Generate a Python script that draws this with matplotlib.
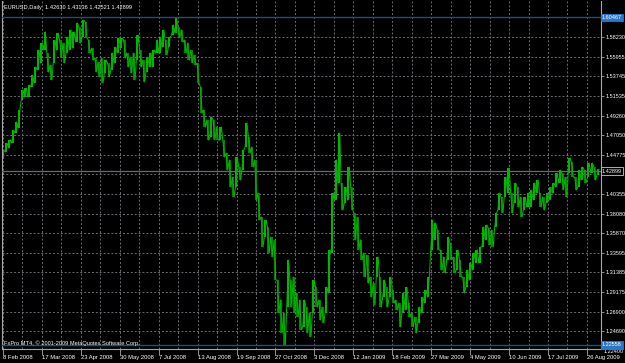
"""
EURUSD 日线图（MT4 风格）复刻
"""

import numpy as np
import matplotlib.pyplot as plt
import matplotlib.transforms as mtransforms

plt.rcParams['font.family'] = ['Liberation Sans', 'DejaVu Sans']

# ==========================================
# 数据：每根柱子的最高价 / 最低价
# ==========================================
highs = [
    # 2008 年 2 月 - 4 月
    1.4534, 1.4614, 1.4648, 1.4762, 1.4853, 1.4990, 1.5218, 1.5241, 1.5275, 1.5389,
    1.5481, 1.5675, 1.5755, 1.5880, 1.5641, 1.5504, 1.5789, 1.5869, 1.5789, 1.5755,
    1.5823, 1.5903, 1.5880, 1.5983, 1.5937, 1.6017, 1.5994, 1.5789, 1.5698, 1.5584,
    1.5538, 1.5584, 1.5561, 1.5527, 1.5641, 1.5709, 1.5812, 1.5812, 1.5789, 1.5641,
    1.5595,
    # 2008 年 5 月 - 9 月
    1.5641, 1.5846, 1.5675, 1.5561, 1.5595, 1.5641, 1.5675, 1.5789, 1.5823, 1.5903,
    1.5789, 1.5823, 1.5960, 1.6040, 1.5937, 1.5903, 1.5789, 1.5755, 1.5675, 1.5618,
    1.5527, 1.5252, 1.4990, 1.4876, 1.4910, 1.4876, 1.4796, 1.4796, 1.4648, 1.4500,
    1.4420, 1.4225, 1.4454, 1.4340, 1.4534, 1.4842, 1.4682, 1.4568,
    # 2008 年 9 月 - 2009 年 1 月
    1.4420, 1.4043, 1.3769, 1.3735, 1.3655, 1.3541, 1.3507, 1.3050, 1.2822, 1.2674,
    1.3279, 1.3050, 1.3085, 1.2902, 1.2822, 1.2822, 1.2742, 1.2674, 1.3050, 1.2970,
    1.2822, 1.2742, 1.2970, 1.3393, 1.4043, 1.4420, 1.4728, 1.4157, 1.4111, 1.4340,
    1.4111, 1.3815, 1.3769, 1.3507, 1.3359, 1.3336, 1.3085, 1.3016,
    # 2009 年 1 月 - 5 月
    1.3313, 1.3085, 1.3050, 1.2970, 1.3085, 1.2936, 1.2822, 1.2788, 1.2902, 1.2970,
    1.2788, 1.2674, 1.2628, 1.2742, 1.2856, 1.2936, 1.3085, 1.3735, 1.3701, 1.3621,
    1.3393, 1.3313, 1.3541, 1.3473, 1.3313, 1.3393, 1.3279, 1.3085, 1.3164, 1.3245,
    1.3359, 1.3393, 1.3427, 1.3655, 1.3678, 1.3644, 1.3621,
    # 2009 年 5 月 - 8 月
    1.3815, 1.4043, 1.3997, 1.4225, 1.4328, 1.4043, 1.4157, 1.4111, 1.3997, 1.3997,
    1.4043, 1.4077, 1.4157, 1.4191, 1.4043, 1.3997, 1.4043, 1.4111, 1.4157, 1.4271,
    1.4305, 1.4271, 1.4225, 1.4443, 1.4397, 1.4225, 1.4305, 1.4340, 1.4305, 1.4385,
    1.4385, 1.4340, 1.4314,
]

lows = [
    1.4454, 1.4511, 1.4557, 1.4614, 1.4728, 1.4785, 1.5104, 1.5138, 1.5138, 1.5252,
    1.5298, 1.5447, 1.5527, 1.5675, 1.5424, 1.5333, 1.5527, 1.5675, 1.5584, 1.5527,
    1.5641, 1.5675, 1.5698, 1.5766, 1.5755, 1.5823, 1.5812, 1.5641, 1.5561, 1.5424,
    1.5367, 1.5298, 1.5412, 1.5367, 1.5447, 1.5527, 1.5641, 1.5698, 1.5584, 1.5481,
    1.5412,
    1.5333, 1.5561, 1.5481, 1.5310, 1.5424, 1.5481, 1.5481, 1.5641, 1.5641, 1.5709,
    1.5618, 1.5709, 1.5846, 1.5869, 1.5812, 1.5766, 1.5641, 1.5561, 1.5527, 1.5504,
    1.5298, 1.4956, 1.4796, 1.4648, 1.4682, 1.4648, 1.4648, 1.4648, 1.4454, 1.4305,
    1.4111, 1.3997, 1.4111, 1.4191, 1.4305, 1.4568, 1.4500, 1.4340,
    1.3963, 1.3735, 1.3427, 1.3541, 1.3359, 1.3313, 1.3050, 1.2674, 1.2446, 1.2309,
    1.2742, 1.2742, 1.2674, 1.2628, 1.2480, 1.2514, 1.2446, 1.2400, 1.2674, 1.2742,
    1.2594, 1.2560, 1.2674, 1.2902, 1.3359, 1.3963, 1.4157, 1.3849, 1.3929, 1.3963,
    1.3849, 1.3507, 1.3393, 1.3279, 1.3085, 1.3016, 1.2856, 1.2765,
    1.3085, 1.2742, 1.2856, 1.2742, 1.2856, 1.2788, 1.2708, 1.2514, 1.2674, 1.2708,
    1.2628, 1.2514, 1.2446, 1.2560, 1.2674, 1.2788, 1.2856, 1.3393, 1.3507, 1.3393,
    1.3164, 1.3130, 1.3279, 1.3279, 1.3130, 1.3164, 1.3085, 1.2902, 1.2970, 1.3050,
    1.3164, 1.3245, 1.3245, 1.3427, 1.3507, 1.3450, 1.3427,
    1.3655, 1.3849, 1.3815, 1.3997, 1.4043, 1.3815, 1.3929, 1.3883, 1.3769, 1.3849,
    1.3883, 1.3883, 1.3963, 1.4043, 1.3883, 1.3849, 1.3929, 1.3963, 1.4043, 1.4111,
    1.4157, 1.4077, 1.3997, 1.4271, 1.4225, 1.4077, 1.4111, 1.4191, 1.4157, 1.4225,
    1.4271, 1.4191, 1.4252,
]

# 价格刻度（右侧）
price_ticks = [1.58230, 1.55955, 1.53745, 1.51535, 1.49260, 1.47050, 1.44775, 1.42565,
               1.40355, 1.38080, 1.35870, 1.33595, 1.31385, 1.29175, 1.26900, 1.24690]
hidden_tick = 1.42565   # 被当前价标签遮住
bottom_label = 1.22400

# 日期刻度
date_labels = ["8 Feb 2008", "17 Mar 2008", "23 Apr 2008", "30 May 2008", "7 Jul 2008",
               "13 Aug 2008", "19 Sep 2008", "27 Oct 2008", "3 Dec 2008", "12 Jan 2009",
               "18 Feb 2009", "27 Mar 2009", "4 May 2009", "10 Jun 2009", "17 Jul 2009",
               "26 Aug 2009"]

# 水平线与 OHLC 信息
line_high = 1.60467
line_low = 1.22558
last_bid = 1.42899
ohlc = [1.42630, 1.43136, 1.42521, 1.42899]

# ==========================================
# 画布
# ==========================================
BG = "#000000"
GRID = "#6c6c74"
BLUE_LINE = "#1b4f86"
BLUE_BOX = "#2a78cc"
FS_Y = 4.0
FS_X = 4.2

fig = plt.figure(figsize=(6.25, 3.63), dpi=100, facecolor=BG)
ax = fig.add_axes([2 / 625, 14 / 363, 599 / 625, 348 / 363])
ax.set_facecolor(BG)

n = len(highs)
x = np.arange(n)
highs = np.array(highs)
lows = np.array(lows)
mid = (highs + lows) / 2

# 上涨用亮绿，下跌用暗绿
up = np.r_[True, mid[1:] >= mid[:-1]]
colors = np.where(up, "#00d000", "#009400")

ax.set_xlim(-0.3, n - 1 + 0.95)
ax.set_ylim(1.2263, 1.6234)

# 网格
step = 12.17
vgrid = np.arange(0, n, step / 2)
for gx in vgrid:
    ax.axvline(gx, color=GRID, lw=0.7, ls=(0, (2, 2)), zorder=0)
for gy in price_ticks:
    ax.axhline(gy, color=GRID, lw=0.7, ls=(0, (2, 2)), zorder=0)

# 价格柱：竖线 + 高低点折线，模拟密集日线
ax.vlines(x, lows, highs, colors=colors, lw=1.3, zorder=2)
zx = np.repeat(x, 2).astype(float)
zy = np.where(np.repeat(up, 2), np.column_stack([lows, highs]).ravel(),
              np.column_stack([highs, lows]).ravel())
zx[0::2] -= 0.3
zx[1::2] += 0.3
ax.plot(zx, zy, color="#00b400", lw=0.7, zorder=2)

# 水平线（下方那条在原图中略高于底边）
ax.axhline(line_high, color=BLUE_LINE, lw=1.0, zorder=3)
low_off = mtransforms.offset_copy(ax.get_yaxis_transform(), fig=fig, y=5, units="dots")
ax.plot([0, 1], [line_low, line_low], color=BLUE_LINE, lw=1.0, zorder=3,
        transform=low_off, clip_on=False)
ax.axhline(last_bid, color="#6a6a6a", lw=0.9, zorder=3)

# ==========================================
# 坐标轴样式
# ==========================================
ax.spines["top"].set_visible(False)
for side in ["left", "right", "bottom"]:
    ax.spines[side].set_color("#a8a8a8")
    ax.spines[side].set_linewidth(0.8)

ax.yaxis.tick_right()
ax.set_yticks(price_ticks)
ax.set_yticklabels(["" if t == hidden_tick else f"{t:.5f}" for t in price_ticks])
ax.tick_params(axis="y", colors="#a8a8a8", length=2, width=0.6, pad=1.2,
               labelsize=FS_Y, labelcolor="white")

ax.set_xticks(np.arange(len(date_labels)) * step)
ax.set_xticklabels(date_labels)
ax.tick_params(axis="x", colors="#a8a8a8", length=4, width=0.6, pad=0.6,
               labelsize=FS_X, labelcolor="white")
for lbl in ax.get_xticklabels():
    lbl.set_horizontalalignment("left")

trans = ax.get_yaxis_transform()
ax.text(1.004, bottom_label, f"{bottom_label:.5f}", transform=trans, fontsize=FS_Y,
        color="white", va="center", ha="left", clip_on=False)

# 高亮标签
def price_tag(val, face, edge, txt, tr):
    ax.text(1.0015, val, f"{val:.5f}", transform=tr, fontsize=FS_Y, color=txt,
            va="center", ha="left", clip_on=False, zorder=5,
            bbox=dict(boxstyle="square,pad=0.25", fc=face, ec=edge, lw=0.6))

price_tag(line_high, BLUE_BOX, BLUE_BOX, "white", trans)
price_tag(line_low, BLUE_BOX, BLUE_BOX, "white", low_off)
price_tag(last_bid, "#000000", "#c8c8c8", "white", trans)

# 左上角品种信息，左下角版权
ax.text(0.004, 0.988, "EURUSD,Daily  " + " ".join(f"{v:.5f}" for v in ohlc),
        transform=ax.transAxes, fontsize=4.1, color="white", va="top", ha="left")
ax.text(0.004, 0.016, "FxPro MT4, © 2001-2009 MetaQuotes Software Corp.",
        transform=ax.transAxes, fontsize=4.1, color="white", va="center", ha="left",
        zorder=6)

fig.savefig("out.png", dpi=100, facecolor=BG)
